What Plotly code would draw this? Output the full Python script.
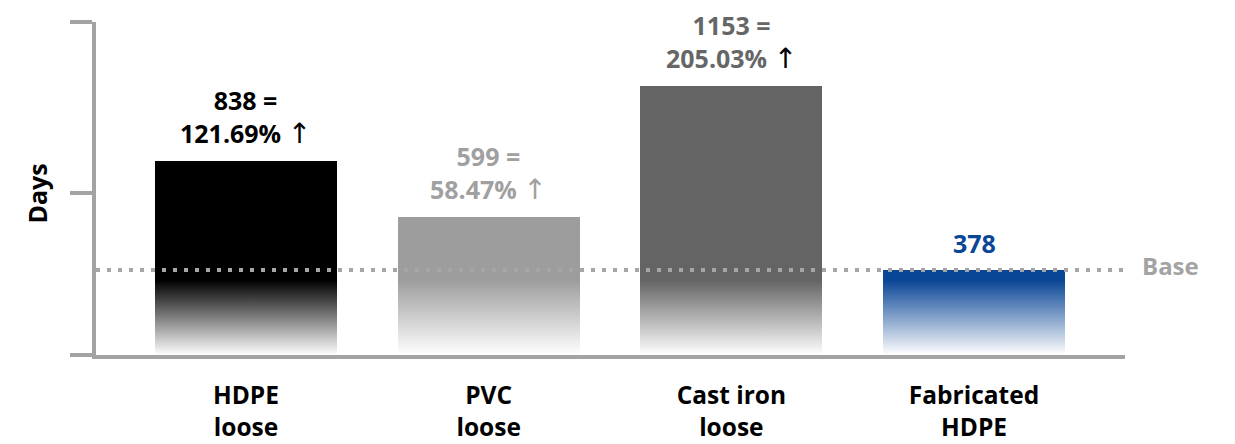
import plotly.graph_objects as go

# Service life data (days) per pipe type; the fabricated HDPE value is the base
categories = ["HDPE<br>loose", "PVC<br>loose", "Cast iron<br>loose", "Fabricated<br>HDPE"]
days = [838, 599, 1153, 378]
bar_colors = ["#000000", "#9d9d9d", "#646464", "#0a4696"]
label_colors = ["#000000", "#a0a0a0", "#666666", "#0a4696"]
arrow_colors = ["#000000", "#a0a0a0", "#000000", None]
base_days = 378

# Axis setup (unlabelled ticks on the value axis)
y_range = [20, 1422]
y_ticks = [20, 702, 1422]
x_range = [-0.618, 3.622]
fade_top = 335  # bars fade to white below this level

AXIS_GREY = "#a3a3a3"
FONT = "Open Sans"
ARROW_FONT = "DejaVu Sans"

x_pos = list(range(len(categories)))

fig = go.Figure()

fig.add_trace(go.Bar(
    x=x_pos,
    y=days,
    width=0.75,
    marker=dict(color=bar_colors, line=dict(width=0)),
    hoverinfo="skip",
    showlegend=False,
))

# White gradient overlay that fades the lower part of every bar
fig.add_trace(go.Scatter(
    x=[x_range[0], x_range[1], x_range[1], x_range[0], x_range[0]],
    y=[y_range[0], y_range[0], fade_top, fade_top, y_range[0]],
    mode="lines",
    line=dict(width=0),
    fill="toself",
    fillgradient=dict(
        type="vertical",
        colorscale=[[0, "rgba(255,255,255,1)"], [1, "rgba(255,255,255,0)"]],
    ),
    hoverinfo="skip",
    showlegend=False,
))

# Dotted base line
fig.add_shape(
    type="line", xref="paper", x0=0, x1=1, yref="y", y0=base_days, y1=base_days,
    line=dict(color="#a6a6a6", width=4, dash="4px,7px"), layer="above",
)

# Value labels above bars
for i, v in enumerate(days):
    if v == base_days:
        text = f"{v}"
        shift = 8
    else:
        pct = (v - base_days) / base_days * 100
        arrow = (f"<span style='color:{arrow_colors[i]};font-family:\"{ARROW_FONT}\";"
                 f"font-weight:normal;font-size:28px'>↑</span>")
        text = f"{v} =<br>{pct:.2f}% {arrow}"
        shift = 9
    fig.add_annotation(
        x=i, y=v, xref="x", yref="y", text=text, showarrow=False,
        yanchor="bottom", yshift=shift,
        font=dict(family=FONT, size=25, color=label_colors[i], weight="bold"),
    )

fig.add_annotation(
    xref="paper", x=1, yref="y", y=base_days, text="Base", showarrow=False,
    xanchor="left", xshift=15, yshift=4,
    font=dict(family=FONT, size=24, color="#a3a3a3", weight="bold"),
)

fig.add_annotation(
    xref="paper", x=0, yref="paper", y=0.485, text="Days", showarrow=False,
    textangle=-90, xanchor="center", yanchor="middle", xshift=-59,
    font=dict(family=FONT, size=25, color="#000000", weight="bold"),
)

fig.update_layout(
    width=1235, height=444,
    margin=dict(l=96, r=110, t=22, b=89, autoexpand=False),
    paper_bgcolor="white", plot_bgcolor="white",
    bargap=0,
    xaxis=dict(
        range=x_range, tickvals=x_pos, ticktext=categories,
        showline=True, linecolor=AXIS_GREY, linewidth=4,
        showgrid=False, zeroline=False, ticks="", automargin=False,
        tickfont=dict(family=FONT, size=24.5, color="#000000", weight="bold"),
        ticklabelstandoff=16,
    ),
    yaxis=dict(
        range=y_range, tickvals=y_ticks, showticklabels=False,
        showline=True, linecolor=AXIS_GREY, linewidth=4, automargin=False,
        ticks="outside", ticklen=22, tickwidth=4, tickcolor=AXIS_GREY,
        showgrid=False, zeroline=False,
    ),
)

fig.write_html("out.html")
